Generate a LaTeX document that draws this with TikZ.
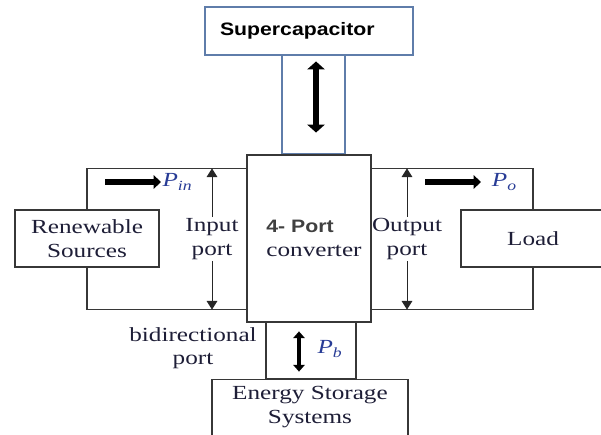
\documentclass[tikz,border=0pt]{standalone}
\usepackage{fontspec}
\setmainfont{Liberation Serif}[FakeStretch=1.26]
\newfontfamily\hdfont{Liberation Sans}[FakeStretch=1.18]
\usetikzlibrary{arrows.meta,positioning}
\definecolor{linegray}{RGB}{55,55,55}
\definecolor{scblue}{RGB}{95,125,170}
\definecolor{pblue}{RGB}{40,60,150}
\definecolor{txtdark}{RGB}{30,30,55}
\newcommand{\pw}[1]{{\itshape P}\raisebox{-3pt}{\fontsize{10.5}{10.5}\selectfont\itshape #1}}

\begin{document}
\begin{tikzpicture}[x=0.75pt, y=-0.75pt,
  every node/.style={font=\fontsize{15}{17.5}\selectfont, text=txtdark},
  box/.style={draw=linegray, line width=0.9pt, fill=white, inner sep=0pt, align=center},
  scbox/.style={draw=scblue, line width=0.8pt, fill=white, inner sep=0pt},
  lbl/.style={align=center, inner sep=1pt},
  plbl/.style={inner sep=1pt, text=pblue},
  wire/.style={draw=linegray, line width=0.9pt},
  portarrow/.style={-{Triangle[width=8pt,length=6.5pt]}, line width=0.75pt, black!85},
  power/.style={-{Triangle[width=10pt,length=5.5pt]}, line width=3.8pt},
  dblarrow/.style={{Triangle[width=13pt,length=6pt]}-{Triangle[width=13pt,length=6pt]}, line width=4pt},
  bdarrow/.style={{Triangle[width=8.5pt,length=5pt]}-{Triangle[width=8.5pt,length=5pt]}, line width=3pt}]
  \useasboundingbox (0,0) rectangle (601,435);

  % supercapacitor branch
  \node[scbox, minimum width=156pt, minimum height=36pt, text width=133.5pt, align=left,
        font=\hdfont\bfseries\fontsize{13.5}{16}\selectfont, text=black] (sc) at (309,31) {Supercapacitor};
  \node[scbox, minimum width=47.25pt, minimum height=74.25pt] (sclink) at (313.5,104.5) {};
  \draw[dblarrow] ([xshift=1.9pt,yshift=-5.25pt]sclink.north) -- ([xshift=1.9pt,yshift=16.5pt]sclink.south);

  % converter and the two side ports
  \node[box, minimum width=93pt, minimum height=125.25pt, align=left] (conv) at (309,238.5)
    {\hspace*{7.5pt}{\hdfont\bfseries\fontsize{13.5}{16}\selectfont\color{black!75}4- Port}\\\hspace*{7.5pt}converter};
  \node[box, minimum width=108pt, minimum height=42.75pt] (ren) at (87,238.5) {Renewable\\Sources};
  \node[box, minimum width=108pt, minimum height=42.75pt] (load) at (533,238.5) {Load};
  \coordinate (intop) at ([yshift=-10.5pt]conv.north west);
  \coordinate (inbot) at ([yshift=9.75pt]conv.south west);
  \coordinate (outtop) at ([yshift=-10.5pt]conv.north east);
  \coordinate (outbot) at ([yshift=9.75pt]conv.south east);
  \draw[wire] (ren.north) |- (intop);
  \draw[wire] (ren.south) |- (inbot);
  \draw[wire] (load.north) |- (outtop);
  \draw[wire] (load.south) |- (outbot);

  \node[lbl] (inport) at (212,239) {Input\\port};
  \node[lbl] (outport) at (407,239) {Output\\port};
  \draw[portarrow] (inport.north) -- (inport.north |- intop);
  \draw[portarrow] (inport.south) -- (inport.south |- inbot);
  \draw[portarrow] (outport.north) -- (outport.north |- outtop);
  \draw[portarrow] (outport.south) -- (outport.south |- outbot);

  \coordinate (pinA) at (105,182);
  \coordinate (pinB) at (161,182);
  \draw[power] (pinA) -- (pinB);
  \node[plbl, right=0pt of pinB] (pin) {\pw{in}};
  \coordinate (poA) at (425,182);
  \coordinate (poB) at (481,182);
  \draw[power] (poA) -- (poB);
  \node[plbl, right=7pt of poB] (po) {\pw{o}};

  % storage branch
  \node[box, minimum width=67.5pt, minimum height=42.75pt] (bilink) at (311,350.5) {};
  \draw[bdarrow] ([xshift=-9pt,yshift=-7.5pt]bilink.north) -- ([xshift=-9pt,yshift=6pt]bilink.south);
  \node[plbl, anchor=west] (pb) at (316,349) {\pw{b}};
  \node[lbl] (bilbl) at (193,348) {bidirectional\\port};
  \node[box, anchor=north, minimum width=147pt, minimum height=48pt] (ess) at (310,379) {};
  \node[lbl] (esstxt) at (310,407) {Energy Storage\\Systems};
\end{tikzpicture}
\end{document}
